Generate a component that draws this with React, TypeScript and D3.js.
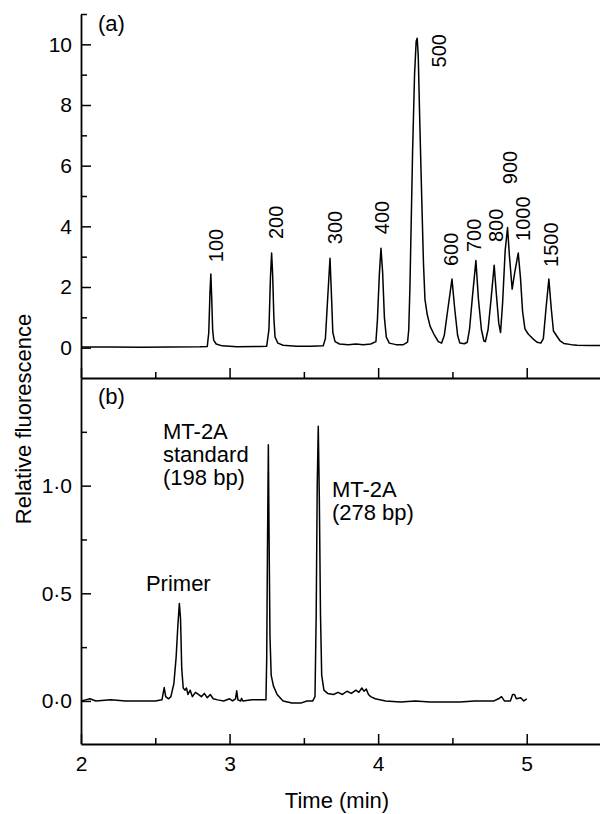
import React, { useEffect, useRef } from 'react';
import * as d3 from 'd3';

const width = 600;
const height = 814;
const left = 81;
const right = 601;
const topA = 14;
const splitY = 378;
const bottomB = 744;
const font = '"Liberation Sans", Arial, sans-serif';
const tickFont = 21;
const bandFont = 20;
const textFont = 22;

// panel (a): DNA ladder trace, [time (min), relative fluorescence]
const ladderTrace: [number, number][] = [
  [2.0, 0.02], [2.2, 0.02], [2.4, 0.01], [2.6, 0.02], [2.8, 0.03], [2.85, 0.04],
  [2.86, 0.5], [2.868, 1.8], [2.874, 2.43], [2.88, 1.6], [2.886, 0.6], [2.893, 0.25],
  [2.91, 0.12], [2.95, 0.06], [3.05, 0.03], [3.2, 0.04], [3.25, 0.05],
  [3.265, 0.6], [3.275, 2.3], [3.283, 3.12], [3.29, 2.4], [3.298, 1.0], [3.306, 0.35],
  [3.325, 0.15], [3.36, 0.08], [3.45, 0.05], [3.55, 0.05], [3.63, 0.06],
  [3.645, 0.3], [3.66, 1.6], [3.676, 2.95], [3.686, 1.7], [3.695, 0.5], [3.71, 0.2],
  [3.74, 0.12], [3.8, 0.1], [3.85, 0.12], [3.9, 0.1], [3.95, 0.12], [3.985, 0.2],
  [3.995, 0.9], [4.008, 2.4], [4.019, 3.28], [4.03, 2.5], [4.042, 1.0], [4.055, 0.35],
  [4.075, 0.15], [4.12, 0.1], [4.17, 0.1], [4.198, 0.18], [4.206, 0.6], [4.214, 2.0],
  [4.222, 4.0], [4.232, 6.5], [4.245, 9.0], [4.256, 10.1], [4.263, 10.2], [4.27, 9.6],
  [4.28, 7.5], [4.293, 5.0], [4.305, 2.8], [4.315, 1.6], [4.33, 1.1], [4.35, 0.7],
  [4.375, 0.45], [4.405, 0.2], [4.427, 0.15], [4.445, 0.4], [4.47, 1.3], [4.497, 2.26],
  [4.515, 1.3], [4.535, 0.4], [4.55, 0.15], [4.58, 0.13], [4.6, 0.18], [4.615, 0.6],
  [4.635, 1.7], [4.658, 2.87], [4.675, 1.6], [4.695, 0.6], [4.712, 0.22], [4.722, 0.2],
  [4.74, 0.6], [4.76, 1.6], [4.781, 2.72], [4.795, 1.8], [4.812, 0.8], [4.824, 0.5],
  [4.838, 1.5], [4.855, 3.2], [4.871, 3.96], [4.884, 3.0], [4.902, 1.93], [4.92, 2.5],
  [4.943, 3.12], [4.958, 2.3], [4.972, 1.2], [4.988, 0.62], [5.01, 0.45], [5.04, 0.3],
  [5.07, 0.18], [5.095, 0.15], [5.112, 0.3], [5.13, 1.3], [5.149, 2.26], [5.165, 1.3],
  [5.18, 0.55], [5.2, 0.4], [5.225, 0.22], [5.25, 0.14], [5.3, 0.1], [5.34, 0.08],
  [5.42, 0.07], [5.5, 0.07],
];

// ladder band sizes and where their labels sit [label, time, value]
const ladderLabels: [string, number, number][] = [
  ['100', 2.956, 2.82], ['200', 3.359, 3.58], ['300', 3.756, 3.41], ['400', 4.073, 3.74],
  ['500', 4.456, 9.24], ['600', 4.537, 2.69], ['700', 4.692, 3.15], ['800', 4.84, 3.48],
  ['900', 4.934, 5.39], ['1000', 5.021, 3.52], ['1500', 5.21, 2.66],
];

// panel (b): MT-2A sample trace
const sampleTrace: [number, number][] = [
  [2.0, 0.0], [2.03, 0.005], [2.06, 0.01], [2.1, 0.0], [2.2, 0.005], [2.3, 0.0],
  [2.4, 0.0], [2.5, 0.0], [2.545, 0.005], [2.56, 0.062], [2.57, 0.02], [2.59, 0.01],
  [2.605, 0.02], [2.625, 0.08], [2.64, 0.2], [2.652, 0.35], [2.662, 0.453], [2.67, 0.38],
  [2.678, 0.15], [2.688, 0.06], [2.7, 0.05], [2.71, 0.06], [2.72, 0.03], [2.735, 0.05],
  [2.75, 0.02], [2.77, 0.04], [2.79, 0.03], [2.81, 0.02], [2.83, 0.035], [2.85, 0.015],
  [2.87, 0.03], [2.89, 0.01], [2.92, 0.005], [2.96, 0.0], [3.0, 0.01], [3.02, 0.0],
  [3.04, 0.01], [3.048, 0.047], [3.056, 0.005], [3.075, 0.0], [3.08, 0.012], [3.09, 0.0],
  [3.15, 0.005], [3.2, 0.005], [3.245, 0.005], [3.25, 0.2], [3.255, 0.7], [3.261, 1.19],
  [3.266, 0.75], [3.272, 0.3], [3.28, 0.12], [3.295, 0.07], [3.32, 0.03], [3.36, 0.0],
  [3.42, -0.01], [3.48, -0.01], [3.52, 0.0], [3.56, 0.0], [3.575, 0.02], [3.583, 0.4],
  [3.59, 1.0], [3.597, 1.276], [3.604, 0.95], [3.612, 0.4], [3.62, 0.12], [3.635, 0.05],
  [3.66, 0.035], [3.7, 0.03], [3.73, 0.04], [3.76, 0.03], [3.79, 0.045], [3.82, 0.035],
  [3.85, 0.05], [3.87, 0.04], [3.89, 0.06], [3.905, 0.045], [3.92, 0.055], [3.935, 0.03],
  [3.95, 0.02], [3.98, 0.01], [4.05, 0.0], [4.15, -0.005], [4.25, 0.0], [4.35, -0.005],
  [4.45, -0.005], [4.55, -0.005], [4.65, 0.0], [4.78, 0.0], [4.81, 0.01], [4.83, 0.02],
  [4.85, 0.0], [4.89, 0.0], [4.905, 0.03], [4.918, 0.03], [4.93, 0.01], [4.96, 0.015],
  [4.98, 0.0], [5.0, 0.01],
];

// [text lines, time, value of first baseline]
const sampleLabels: [string[], number, number][] = [
  [['Primer'], 2.437, 0.51],
  [['MT-2A', 'standard', '(198 bp)'], 2.552, 1.217],
  [['MT-2A', '(278 bp)'], 3.689, 0.947],
];

const xDomain = [2, 5.5];
const yDomainA = [-1, 11];
const yDomainB = [-0.2, 1.5];
const xMajor = [2, 3, 4, 5];
const xMinor = [2.5, 3.5, 4.5];
const yMajorA = [0, 2, 4, 6, 8, 10];
const yMinorA = [1, 3, 5, 7, 9, 11];
const yMajorB = [0, 0.5, 1.0];
const yMinorB = [0.25, 0.75, 1.25];

export default function App() {
  const ref = useRef<SVGSVGElement>(null);

  useEffect(() => {
    const svg = d3.select(ref.current);
    svg.selectAll('*').remove();

    const x = d3.scaleLinear().domain(xDomain).range([left, right]);
    const yA = d3.scaleLinear().domain(yDomainA).range([splitY, topA]);
    const yB = d3.scaleLinear().domain(yDomainB).range([bottomB, splitY]);

    const styleAxis = (g: any) => {
      g.select('.domain').attr('stroke-width', 1.8);
      g.selectAll('.tick line').attr('stroke-width', 1.5);
      g.selectAll('text').attr('font-family', font).attr('font-size', tickFont);
    };
    const dot = (d: any) => d3.format('.1f')(d).replace('.', '\u00b7');

    // y axes
    svg.append('g').attr('transform', `translate(${left},0)`)
      .call(d3.axisLeft(yA).tickValues(yMajorA).tickSizeInner(-10).tickSizeOuter(0).tickPadding(9).tickFormat(d3.format('d')))
      .call(styleAxis);
    svg.append('g').attr('transform', `translate(${left},0)`)
      .call(d3.axisLeft(yA).tickValues(yMinorA).tickSizeInner(-6).tickSizeOuter(0).tickFormat(() => ''))
      .call(g => g.select('.domain').remove()).call(styleAxis);
    svg.append('g').attr('transform', `translate(${left},0)`)
      .call(d3.axisLeft(yB).tickValues(yMajorB).tickSizeInner(-10).tickSizeOuter(0).tickPadding(9).tickFormat(dot))
      .call(styleAxis);
    svg.append('g').attr('transform', `translate(${left},0)`)
      .call(d3.axisLeft(yB).tickValues(yMinorB).tickSizeInner(-6).tickSizeOuter(0).tickFormat(() => ''))
      .call(g => g.select('.domain').remove()).call(styleAxis);

    // x axes (shared divider and bottom)
    [splitY, bottomB].forEach((yy, i) => {
      svg.append('g').attr('transform', `translate(0,${yy})`)
        .call(d3.axisBottom(x).tickValues(xMajor).tickSizeInner(-10).tickSizeOuter(0).tickPadding(12)
          .tickFormat(i === 1 ? d3.format('d') : () => ''))
        .call(styleAxis);
      svg.append('g').attr('transform', `translate(0,${yy})`)
        .call(d3.axisBottom(x).tickValues(xMinor).tickSizeInner(-6).tickSizeOuter(0).tickFormat(() => ''))
        .call(g => g.select('.domain').remove()).call(styleAxis);
    });

    // traces
    const lineA = d3.line<[number, number]>().x(d => x(d[0])).y(d => yA(d[1]));
    const lineB = d3.line<[number, number]>().x(d => x(d[0])).y(d => yB(d[1]));
    svg.append('path').attr('d', lineA(ladderTrace)).attr('fill', 'none')
      .attr('stroke', '#000').attr('stroke-width', 1.5).attr('stroke-linejoin', 'round');
    svg.append('path').attr('d', lineB(sampleTrace)).attr('fill', 'none')
      .attr('stroke', '#000').attr('stroke-width', 1.5).attr('stroke-linejoin', 'round');

    // ladder labels, rotated
    svg.append('g').selectAll('text').data(ladderLabels).join('text')
      .attr('transform', d => `translate(${x(d[1])},${yA(d[2])}) rotate(-90)`)
      .attr('font-family', font).attr('font-size', bandFont)
      .text(d => d[0]);

    // sample peak labels, one text per line
    const lineGap = 23;
    svg.append('g').selectAll('text')
      .data(sampleLabels.flatMap(d => d[0].map((t, i) => ({ t, tx: d[1], ty: d[2], i }))))
      .join('text')
      .attr('x', d => x(d.tx)).attr('y', d => yB(d.ty) + d.i * lineGap)
      .attr('font-family', font).attr('font-size', textFont)
      .text(d => d.t);

    // panel letters
    svg.append('text').attr('x', left + 17).attr('y', topA + 17)
      .attr('font-family', font).attr('font-size', textFont).text('(a)');
    svg.append('text').attr('x', left + 17).attr('y', splitY + 26)
      .attr('font-family', font).attr('font-size', textFont).text('(b)');

    // axis titles
    svg.append('text').attr('x', 337).attr('y', 808)
      .attr('text-anchor', 'middle').attr('font-family', font).attr('font-size', textFont)
      .text('Time (min)');
    svg.append('text').attr('transform', `translate(31,419) rotate(-90)`)
      .attr('text-anchor', 'middle').attr('font-family', font).attr('font-size', textFont)
      .text('Relative fluorescence');
  }, []);

  return (
    <div style={{ position: 'absolute', left: 0, top: 0 }}>
      <svg ref={ref} width={width} height={height} style={{ display: 'block', background: '#fff' }} />
    </div>
  );
}
